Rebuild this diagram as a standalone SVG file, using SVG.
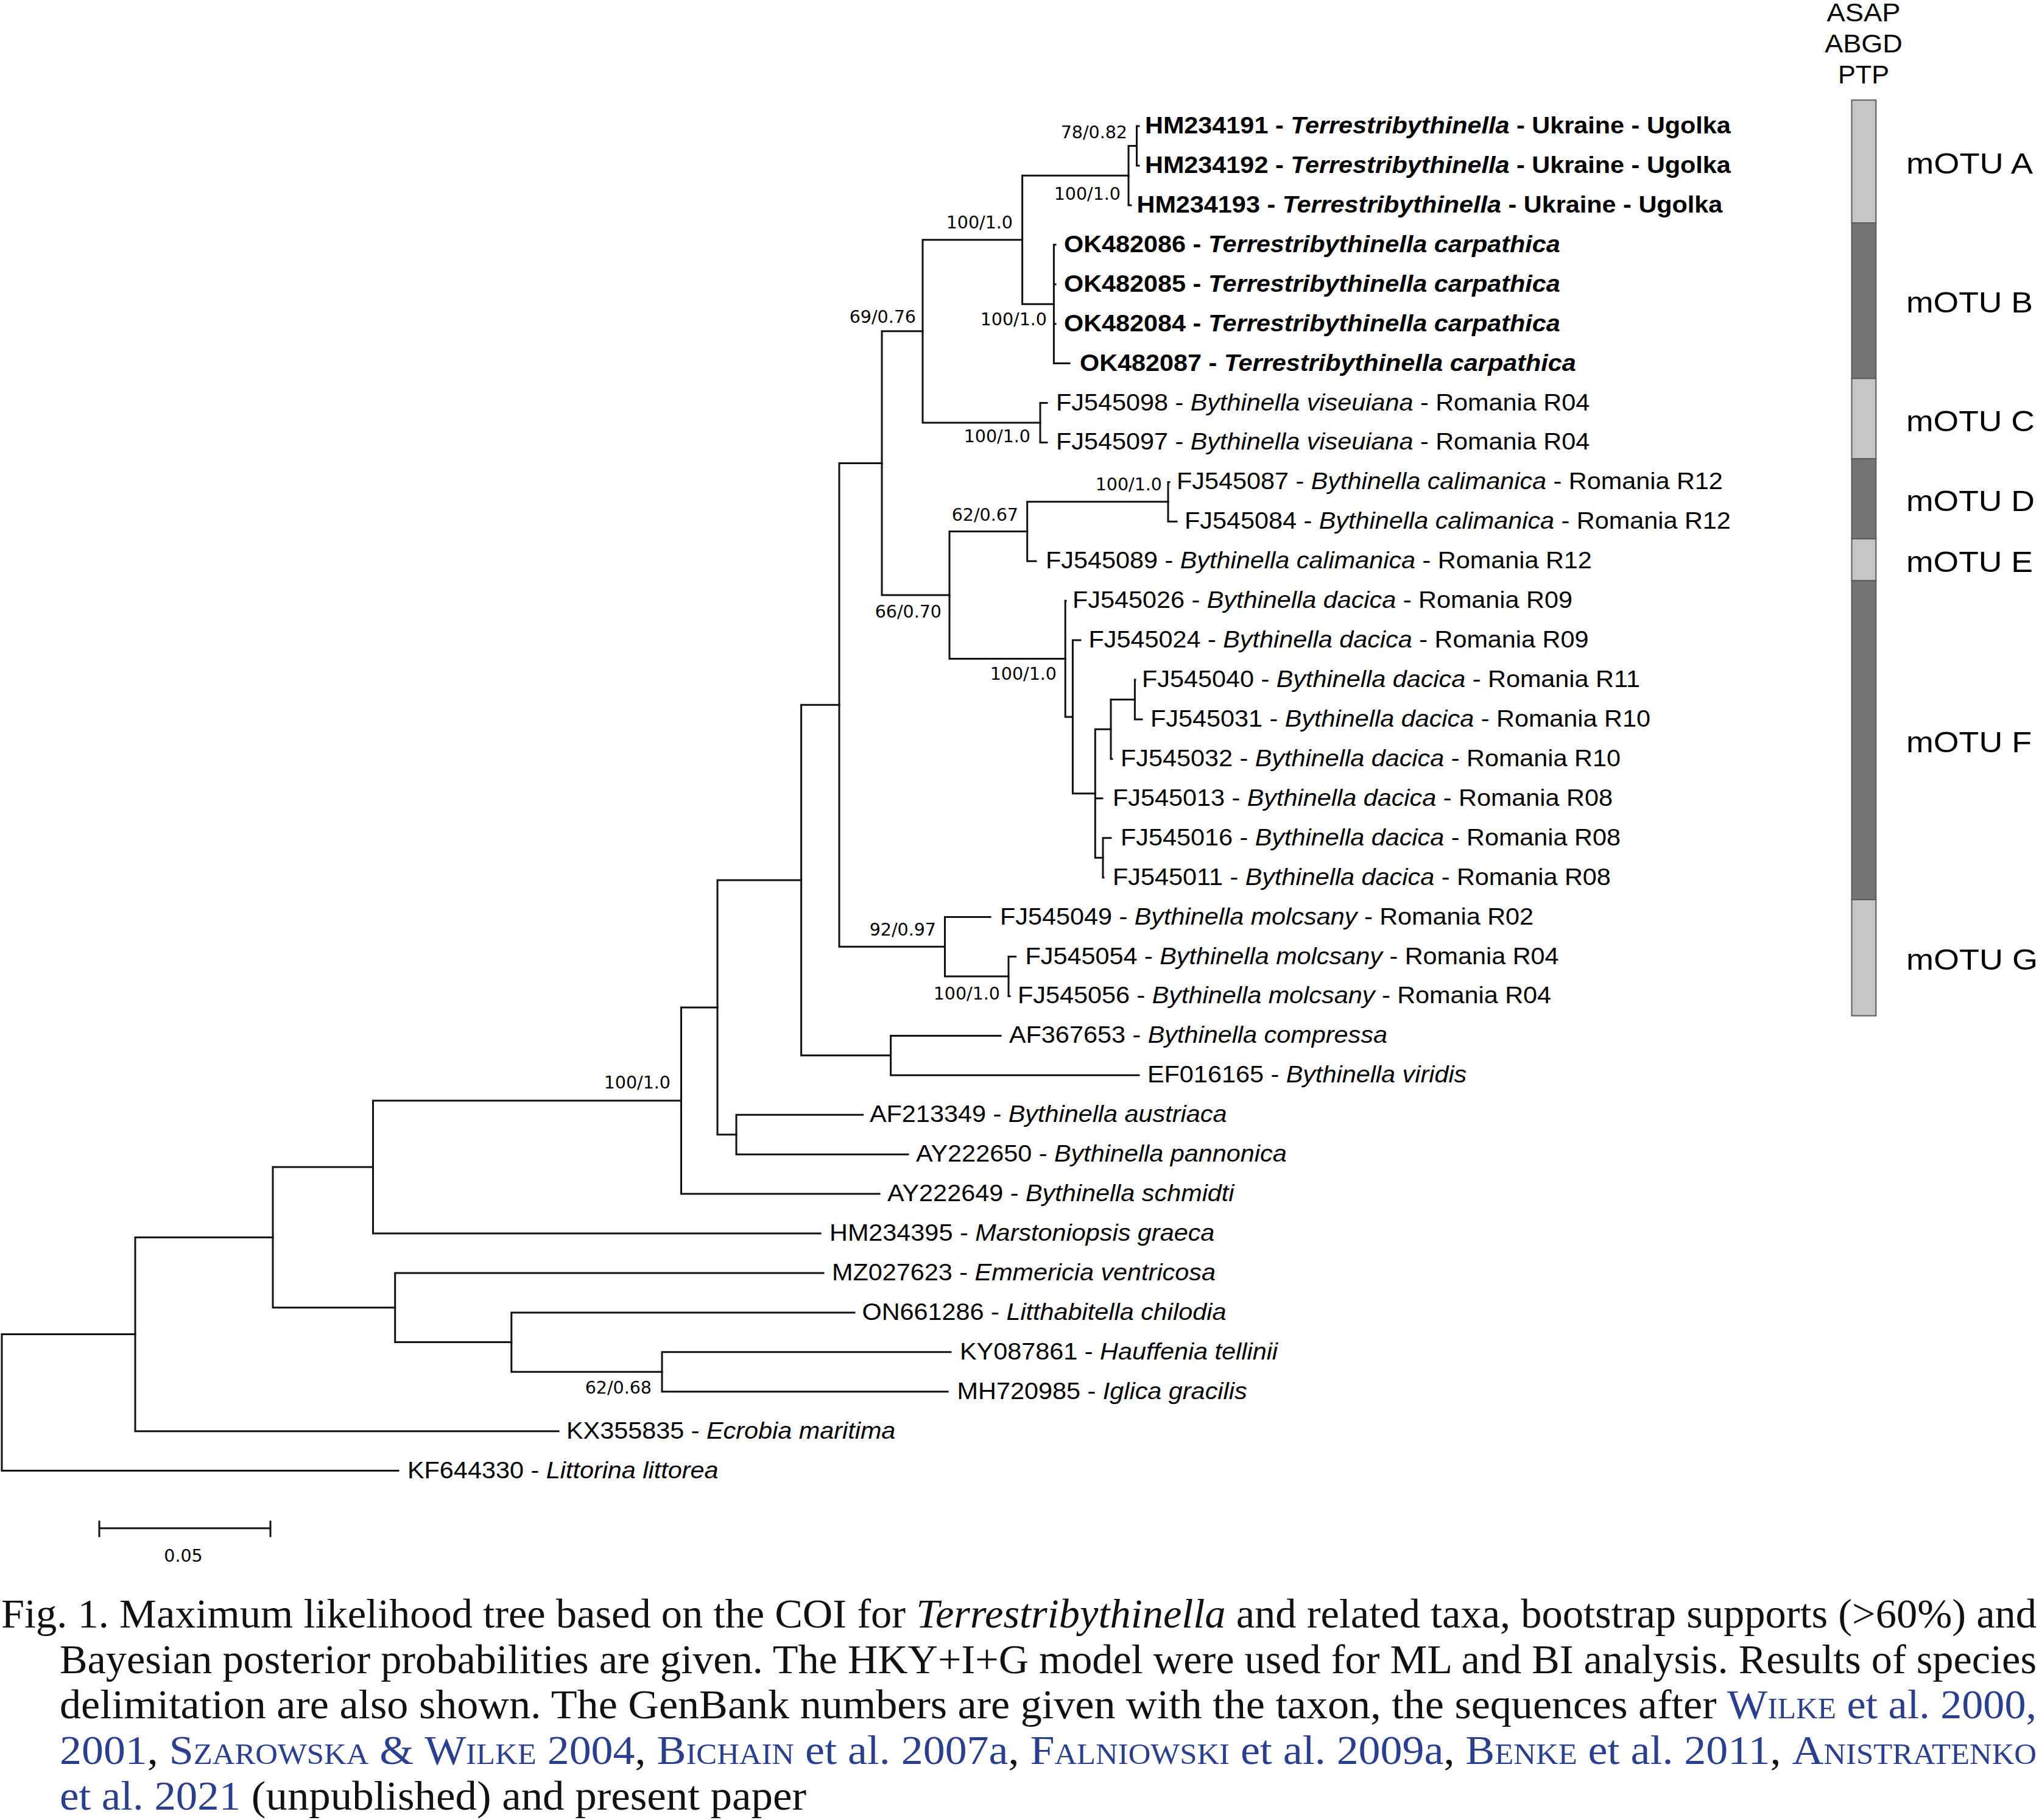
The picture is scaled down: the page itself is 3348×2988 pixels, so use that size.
<svg xmlns="http://www.w3.org/2000/svg" width="3348" height="2988" viewBox="0 0 3348 2988">
<style>
.br{fill:none;stroke:#111;stroke-width:3;stroke-linecap:square}
.t{font-family:"Liberation Sans",Arial,sans-serif;font-size:38.5px;fill:#000}
.b{font-weight:bold}
.i{font-style:italic}
.s{font-family:"DejaVu Sans",Verdana,sans-serif;font-size:28.5px;fill:#000;text-anchor:end}
.h{font-family:"Liberation Sans",Arial,sans-serif;font-size:42px;fill:#000;text-anchor:middle}
.m{font-family:"Liberation Sans",Arial,sans-serif;font-size:49px;fill:#000}
.lt{fill:#c6c6c6;stroke:#5a5a5a;stroke-width:2}
.dk{fill:#747474;stroke:#5a5a5a;stroke-width:2}
.cap{font-family:"Liberation Serif","Times New Roman",serif;font-size:68px;fill:#111}
.bl{fill:#2a3f8f}
.sc{font-variant:small-caps}
</style>
<rect x="0" y="0" width="3348" height="2988" fill="#ffffff"/>
<g id="connectors">
<path class="br" d="M3 2190.55V2414.6 M3 2190.55H222 M3 2414.6H654"/>
<path class="br" d="M222 2031.4V2349.7 M222 2031.4H448 M222 2349.7H917"/>
<path class="br" d="M448 1916V2146.75 M448 1916H612.5 M448 2146.75H648.7"/>
<path class="br" d="M612.5 1807V2025 M612.5 1807H1118.5 M612.5 2025H1347"/>
<path class="br" d="M648.7 2089.9V2203.6 M648.7 2089.9H1352 M648.7 2203.6H839.8"/>
<path class="br" d="M839.8 2154.9V2252.25 M839.8 2154.9H1403 M839.8 2252.25H1087"/>
<path class="br" d="M1087 2219.8V2284.7 M1087 2219.8H1561 M1087 2284.7H1556"/>
<path class="br" d="M1118.5 1653.9V1960.1 M1118.5 1653.9H1178 M1118.5 1960.1H1444"/>
<path class="br" d="M1178 1445.1V1862.7 M1178 1445.1H1315.6 M1178 1862.7H1209"/>
<path class="br" d="M1209 1830.2V1895.2 M1209 1830.2H1416.6 M1209 1895.2H1491"/>
<path class="br" d="M1315.6 1157.35V1732.85 M1315.6 1157.35H1378 M1315.6 1732.85H1462.6"/>
<path class="br" d="M1462.6 1700.4V1765.3 M1462.6 1700.4H1643 M1462.6 1765.3H1870"/>
<path class="br" d="M1378 760.4V1554.3 M1378 760.4H1448 M1378 1554.3H1551.5"/>
<path class="br" d="M1551.5 1505.6V1602.95 M1551.5 1505.6H1626 M1551.5 1602.95H1656"/>
<path class="br" d="M1656 1570.5V1635.4 M1656 1570.5H1667.6 M1656 1635.4H1658"/>
<path class="br" d="M1448 543.8V977 M1448 543.8H1515 M1448 977H1559"/>
<path class="br" d="M1515 393.7V693.95 M1515 393.7H1678.6 M1515 693.95H1708"/>
<path class="br" d="M1708 661.5V726.4 M1708 661.5H1719 M1708 726.4H1719"/>
<path class="br" d="M1678.6 288.2V499.2 M1678.6 288.2H1853 M1678.6 499.2H1730.4"/>
<path class="br" d="M1853 239.45V336.9 M1853 239.45H1866.5 M1853 336.9H1857"/>
<path class="br" d="M1866.5 207V271.9 M1866.5 207H1870 M1866.5 271.9H1870"/>
<path class="br" d="M1730.4 401.8V596.6 M1730.4 401.8H1733 M1730.4 466.7H1733 M1730.4 531.7H1733 M1730.4 596.6H1756"/>
<path class="br" d="M1559 872.5V1081.55 M1559 872.5H1686.7 M1559 1081.55H1749.2"/>
<path class="br" d="M1686.7 823.85V921.2 M1686.7 823.85H1918 M1686.7 921.2H1701"/>
<path class="br" d="M1918 791.4V856.3 M1918 791.4H1920 M1918 856.3H1932"/>
<path class="br" d="M1749.2 986.2V1176.9 M1749.2 986.2H1750 M1749.2 1176.9H1761.4"/>
<path class="br" d="M1761.4 1051.1V1302.7 M1761.4 1051.1H1774 M1761.4 1302.7H1798.3"/>
<path class="br" d="M1798.3 1197.2V1408.2 M1798.3 1197.2H1824 M1798.3 1310.8H1810 M1798.3 1408.2H1811"/>
<path class="br" d="M1824 1148.45V1245.9 M1824 1148.45H1863.4 M1824 1245.9H1826"/>
<path class="br" d="M1863.4 1116V1180.9 M1863.4 1116H1864 M1863.4 1180.9H1875"/>
<path class="br" d="M1811 1375.7V1440.7 M1811 1375.7H1824 M1811 1440.7H1812"/>
</g>
<g id="tips">
<g id="HM234191" transform="translate(1880,219) scale(1.075,1)"><text class="t b">HM234191 - <tspan class="i">Terrestribythinella</tspan> - Ukraine - Ugolka</text></g>
<g id="HM234192" transform="translate(1880,284) scale(1.075,1)"><text class="t b">HM234192 - <tspan class="i">Terrestribythinella</tspan> - Ukraine - Ugolka</text></g>
<g id="HM234193" transform="translate(1866.5,349) scale(1.075,1)"><text class="t b">HM234193 - <tspan class="i">Terrestribythinella</tspan> - Ukraine - Ugolka</text></g>
<g id="OK482086" transform="translate(1747,414) scale(1.075,1)"><text class="t b">OK482086 - <tspan class="i">Terrestribythinella carpathica</tspan></text></g>
<g id="OK482085" transform="translate(1747,479) scale(1.075,1)"><text class="t b">OK482085 - <tspan class="i">Terrestribythinella carpathica</tspan></text></g>
<g id="OK482084" transform="translate(1747,544) scale(1.075,1)"><text class="t b">OK482084 - <tspan class="i">Terrestribythinella carpathica</tspan></text></g>
<g id="OK482087" transform="translate(1773,609) scale(1.075,1)"><text class="t b">OK482087 - <tspan class="i">Terrestribythinella carpathica</tspan></text></g>
<g id="FJ545098" transform="translate(1734,673.5) scale(1.075,1)"><text class="t">FJ545098 - <tspan class="i">Bythinella viseuiana</tspan> - Romania R04</text></g>
<g id="FJ545097" transform="translate(1734,738.4) scale(1.075,1)"><text class="t">FJ545097 - <tspan class="i">Bythinella viseuiana</tspan> - Romania R04</text></g>
<g id="FJ545087" transform="translate(1932,803.4) scale(1.075,1)"><text class="t">FJ545087 - <tspan class="i">Bythinella calimanica</tspan> - Romania R12</text></g>
<g id="FJ545084" transform="translate(1945,868.3) scale(1.075,1)"><text class="t">FJ545084 - <tspan class="i">Bythinella calimanica</tspan> - Romania R12</text></g>
<g id="FJ545089" transform="translate(1717,933.2) scale(1.075,1)"><text class="t">FJ545089 - <tspan class="i">Bythinella calimanica</tspan> - Romania R12</text></g>
<g id="FJ545026" transform="translate(1761,998.2) scale(1.075,1)"><text class="t">FJ545026 - <tspan class="i">Bythinella dacica</tspan> - Romania R09</text></g>
<g id="FJ545024" transform="translate(1787.5,1063.1) scale(1.075,1)"><text class="t">FJ545024 - <tspan class="i">Bythinella dacica</tspan> - Romania R09</text></g>
<g id="FJ545040" transform="translate(1875,1128) scale(1.075,1)"><text class="t">FJ545040 - <tspan class="i">Bythinella dacica</tspan> - Romania R11</text></g>
<g id="FJ545031" transform="translate(1889,1192.9) scale(1.075,1)"><text class="t">FJ545031 - <tspan class="i">Bythinella dacica</tspan> - Romania R10</text></g>
<g id="FJ545032" transform="translate(1840,1257.9) scale(1.075,1)"><text class="t">FJ545032 - <tspan class="i">Bythinella dacica</tspan> - Romania R10</text></g>
<g id="FJ545013" transform="translate(1827,1322.8) scale(1.075,1)"><text class="t">FJ545013 - <tspan class="i">Bythinella dacica</tspan> - Romania R08</text></g>
<g id="FJ545016" transform="translate(1840,1387.7) scale(1.075,1)"><text class="t">FJ545016 - <tspan class="i">Bythinella dacica</tspan> - Romania R08</text></g>
<g id="FJ545011" transform="translate(1827,1452.7) scale(1.075,1)"><text class="t">FJ545011 - <tspan class="i">Bythinella dacica</tspan> - Romania R08</text></g>
<g id="FJ545049" transform="translate(1642,1517.6) scale(1.075,1)"><text class="t">FJ545049 - <tspan class="i">Bythinella molcsany</tspan> - Romania R02</text></g>
<g id="FJ545054" transform="translate(1683.5,1582.5) scale(1.075,1)"><text class="t">FJ545054 - <tspan class="i">Bythinella molcsany</tspan> - Romania R04</text></g>
<g id="FJ545056" transform="translate(1671,1647.4) scale(1.075,1)"><text class="t">FJ545056 - <tspan class="i">Bythinella molcsany</tspan> - Romania R04</text></g>
<g id="AF367653" transform="translate(1657,1712.4) scale(1.075,1)"><text class="t">AF367653 - <tspan class="i">Bythinella compressa</tspan></text></g>
<g id="EF016165" transform="translate(1884,1777.3) scale(1.075,1)"><text class="t">EF016165 - <tspan class="i">Bythinella viridis</tspan></text></g>
<g id="AF213349" transform="translate(1428,1842.2) scale(1.075,1)"><text class="t">AF213349 - <tspan class="i">Bythinella austriaca</tspan></text></g>
<g id="AY222650" transform="translate(1504,1907.2) scale(1.075,1)"><text class="t">AY222650 - <tspan class="i">Bythinella pannonica</tspan></text></g>
<g id="AY222649" transform="translate(1457,1972.1) scale(1.075,1)"><text class="t">AY222649 - <tspan class="i">Bythinella schmidti</tspan></text></g>
<g id="HM234395" transform="translate(1362,2037) scale(1.075,1)"><text class="t">HM234395 - <tspan class="i">Marstoniopsis graeca</tspan></text></g>
<g id="MZ027623" transform="translate(1366,2101.9) scale(1.075,1)"><text class="t">MZ027623 - <tspan class="i">Emmericia ventricosa</tspan></text></g>
<g id="ON661286" transform="translate(1415.5,2166.9) scale(1.075,1)"><text class="t">ON661286 - <tspan class="i">Litthabitella chilodia</tspan></text></g>
<g id="KY087861" transform="translate(1576,2231.8) scale(1.075,1)"><text class="t">KY087861 - <tspan class="i">Hauffenia tellinii</tspan></text></g>
<g id="MH720985" transform="translate(1571.6,2296.7) scale(1.075,1)"><text class="t">MH720985 - <tspan class="i">Iglica gracilis</tspan></text></g>
<g id="KX355835" transform="translate(930,2361.7) scale(1.075,1)"><text class="t">KX355835 - <tspan class="i">Ecrobia maritima</tspan></text></g>
<g id="KF644330" transform="translate(669,2426.6) scale(1.075,1)"><text class="t">KF644330 - <tspan class="i">Littorina littorea</tspan></text></g>
</g>
<g id="supports">
<text class="s" x="1851" y="227">78/0.82</text>
<text class="s" x="1840" y="328">100/1.0</text>
<text class="s" x="1663" y="375">100/1.0</text>
<text class="s" x="1719" y="534">100/1.0</text>
<text class="s" x="1504" y="530">69/0.76</text>
<text class="s" x="1692" y="726">100/1.0</text>
<text class="s" x="1908" y="805">100/1.0</text>
<text class="s" x="1672" y="855">62/0.67</text>
<text class="s" x="1546" y="1014">66/0.70</text>
<text class="s" x="1735" y="1116">100/1.0</text>
<text class="s" x="1537" y="1536">92/0.97</text>
<text class="s" x="1642" y="1641">100/1.0</text>
<text class="s" x="1101" y="1787">100/1.0</text>
<text class="s" x="1070" y="2288">62/0.68</text>
</g>
<g id="scalebar">
<path class="br" d="M163 2509H444 M163 2498V2522 M444 2498V2522"/>
<text class="s" x="301" y="2564" style="text-anchor:middle">0.05</text>
</g>
<g id="delimitation">
<g id="headers">
<text class="h" x="3060" y="35" textLength="121" lengthAdjust="spacingAndGlyphs">ASAP</text>
<text class="h" x="3060" y="86" textLength="127.6" lengthAdjust="spacingAndGlyphs">ABGD</text>
<text class="h" x="3060" y="137" textLength="84" lengthAdjust="spacingAndGlyphs">PTP</text>
</g>
<g id="mOTU-A"><rect class="lt" x="3040.5" y="164.3" width="39.8" height="201.7"/><text class="m" x="3130" y="285" textLength="208" lengthAdjust="spacingAndGlyphs">mOTU A</text></g>
<g id="mOTU-B"><rect class="dk" x="3040.5" y="366" width="39.8" height="255.4"/><text class="m" x="3130" y="513" textLength="208" lengthAdjust="spacingAndGlyphs">mOTU B</text></g>
<g id="mOTU-C"><rect class="lt" x="3040.5" y="621.4" width="39.8" height="131.8"/><text class="m" x="3130" y="708" textLength="211" lengthAdjust="spacingAndGlyphs">mOTU C</text></g>
<g id="mOTU-D"><rect class="dk" x="3040.5" y="753.2" width="39.8" height="131.4"/><text class="m" x="3130" y="839" textLength="211" lengthAdjust="spacingAndGlyphs">mOTU D</text></g>
<g id="mOTU-E"><rect class="lt" x="3040.5" y="884.6" width="39.8" height="68.8"/><text class="m" x="3130" y="939" textLength="208" lengthAdjust="spacingAndGlyphs">mOTU E</text></g>
<g id="mOTU-F"><rect class="dk" x="3040.5" y="953.4" width="39.8" height="523.6"/><text class="m" x="3130" y="1235" textLength="206" lengthAdjust="spacingAndGlyphs">mOTU F</text></g>
<g id="mOTU-G"><rect class="lt" x="3040.5" y="1477" width="39.8" height="190.6"/><text class="m" x="3130" y="1592" textLength="216" lengthAdjust="spacingAndGlyphs">mOTU G</text></g>
</g>
<g id="caption">
<text class="cap" x="2" y="2672" textLength="3342" lengthAdjust="spacingAndGlyphs">Fig. 1. Maximum likelihood tree based on the COI for <tspan class="i">Terrestribythinella</tspan> and related taxa, bootstrap supports (&gt;60%) and</text>
<text class="cap" x="98" y="2747" textLength="3246" lengthAdjust="spacingAndGlyphs">Bayesian posterior probabilities are given. The HKY+I+G model were used for ML and BI analysis. Results of species</text>
<text class="cap" x="98" y="2821" textLength="3246" lengthAdjust="spacingAndGlyphs">delimitation are also shown. The GenBank numbers are given with the taxon, the sequences after <tspan class="bl"><tspan class="sc">Wilke</tspan> et al. 2000,</tspan></text>
<text class="cap" x="98" y="2896" textLength="3246" lengthAdjust="spacingAndGlyphs"><tspan class="bl">2001</tspan>, <tspan class="bl"><tspan class="sc">Szarowska</tspan> &amp; <tspan class="sc">Wilke</tspan> 2004</tspan>, <tspan class="bl"><tspan class="sc">Bichain</tspan> et al. 2007a</tspan>, <tspan class="bl"><tspan class="sc">Falniowski</tspan> et al. 2009a</tspan>, <tspan class="bl"><tspan class="sc">Benke</tspan> et al. 2011</tspan>, <tspan class="bl"><tspan class="sc">Anistratenko</tspan></tspan></text>
<text class="cap" x="98" y="2971" textLength="1226" lengthAdjust="spacingAndGlyphs"><tspan class="bl">et al. 2021</tspan> (unpublished) and present paper</text>
</g>
</svg>
